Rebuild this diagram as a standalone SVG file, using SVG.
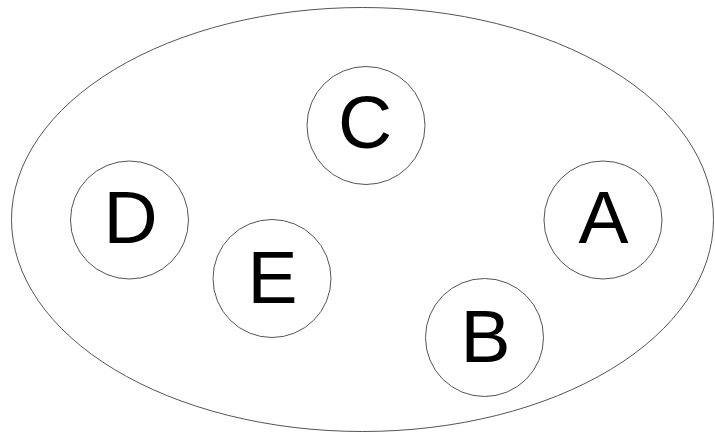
<svg xmlns="http://www.w3.org/2000/svg" width="715" height="433" viewBox="0 0 715 433">
<style>
.shape{fill:#ffffff;stroke:#555555;stroke-width:1}
.lbl{font-family:"Liberation Sans",Arial,sans-serif;font-size:75px;fill:#000000;text-anchor:middle}
</style>
<rect width="715" height="433" fill="#ffffff"/>
<g id="set">
<ellipse class="shape" cx="362.5" cy="219.5" rx="351" ry="212"/>
</g>
<g id="connectors"></g>
<g id="node-C">
<circle class="shape" cx="366" cy="125.5" r="59"/>
<text class="lbl" x="365" y="147.5">C</text>
</g>
<g id="node-D">
<circle class="shape" cx="129.5" cy="220" r="59"/>
<text class="lbl" x="130.5" y="242.7">D</text>
</g>
<g id="node-E">
<circle class="shape" cx="272" cy="278.5" r="59"/>
<text class="lbl" x="272.5" y="302.7">E</text>
</g>
<g id="node-A">
<circle class="shape" cx="603" cy="220" r="59"/>
<text class="lbl" x="603.5" y="242.7">A</text>
</g>
<g id="node-B">
<circle class="shape" cx="484.5" cy="337.5" r="59"/>
<text class="lbl" x="485.5" y="361.7">B</text>
</g>
</svg>
